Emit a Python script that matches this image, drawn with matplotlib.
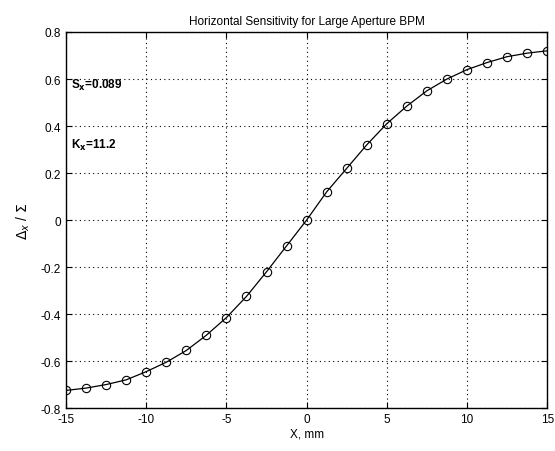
import numpy as np
import matplotlib
matplotlib.use('Agg')
import matplotlib.pyplot as plt

plt.rcParams['font.family'] = ['Liberation Sans', 'DejaVu Sans']
plt.rcParams['axes.unicode_minus'] = False

# measured points, x in mm
x_mm = [-15, -13.75, -12.5, -11.25, -10, -8.75, -7.5, -6.25, -5, -3.75, -2.5, -1.25, 0,
        1.25, 2.5, 3.75, 5, 6.25, 7.5, 8.75, 10, 11.25, 12.5, 13.75, 15]
ratio = [-0.725, -0.715, -0.70, -0.68, -0.645, -0.605, -0.555, -0.49, -0.415, -0.325, -0.22, -0.11, 0.0,
         0.12, 0.22, 0.32, 0.41, 0.485, 0.55, 0.60, 0.64, 0.67, 0.695, 0.71, 0.72]

x_ticks = [-15, -10, -5, 0, 5, 10, 15]
y_ticks = [-0.8, -0.6, -0.4, -0.2, 0, 0.2, 0.4, 0.6, 0.8]
y_labels = ['-0.8', '-0.6', '-0.4', '-0.2', '0', '0.2', '0.4', '0.6', '0.8']

fig = plt.figure(figsize=(5.55, 4.52), dpi=100)
ax = fig.add_axes([0.119, 0.095, 0.867, 0.832])

ax.plot(x_mm, ratio, color='black', linewidth=0.9)
ax.plot(x_mm, ratio, linestyle='none', marker='o', markersize=6,
        markerfacecolor='none', markeredgecolor='black', markeredgewidth=0.8)

ax.set_xlim(-15, 15)
ax.set_ylim(-0.8, 0.8)
ax.set_xticks(x_ticks)
ax.set_yticks(y_ticks)
ax.set_yticklabels(y_labels)
ax.tick_params(direction='in', top=True, right=True, labelsize=8.5, length=4, width=0.8)
ax.grid(True, color='black', linestyle=(0, (1, 3)), linewidth=0.8)
for s in ax.spines.values():
    s.set_linewidth(1.0)

ax.set_title('Horizontal Sensitivity for Large Aperture BPM', fontsize=8.5, pad=6)
ax.set_xlabel('X, mm', fontsize=8.5, labelpad=2)
ax.set_ylabel(r'$\Delta_x$ / $\Sigma$', fontsize=10, labelpad=6)

ax.text(0.01, 0.86, r'S$_\mathbf{x}$=0.089', transform=ax.transAxes, fontsize=8.5,
        fontweight='bold', va='center')
ax.text(0.01, 0.70, r'K$_\mathbf{x}$=11.2', transform=ax.transAxes, fontsize=8.5,
        fontweight='bold', va='center')

fig.savefig('out.png', dpi=100)
